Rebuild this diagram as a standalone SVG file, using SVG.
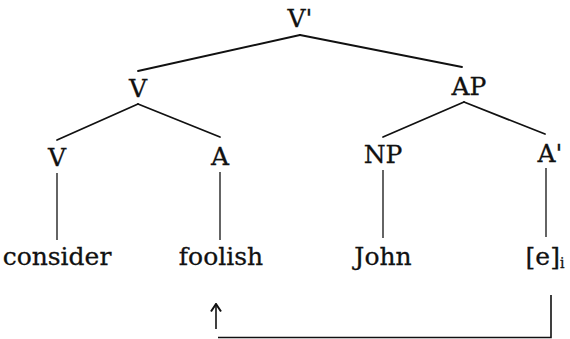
<svg xmlns="http://www.w3.org/2000/svg" width="570" height="339" viewBox="0 0 570 339">
<style>
  .lbl { font-family: "DejaVu Serif", "Liberation Serif", serif; font-size: 25px; fill: #111; stroke: #111; stroke-width: 0.3; text-anchor: middle; }
  .sub { font-size: 14px; }
  .edge { stroke: #111; stroke-width: 1.8; fill: none; stroke-linecap: round; }
  .stem { stroke: #111; stroke-width: 1.3; fill: none; }
  .mv { stroke: #111; stroke-width: 1.6; fill: none; }
</style>
<defs>
  <marker id="arr" viewBox="0 0 10 12" refX="9" refY="6" markerWidth="10" markerHeight="12" orient="auto" markerUnits="userSpaceOnUse">
    <path d="M1.5,1 L9,6 L1.5,11" fill="none" stroke="#111" stroke-width="2"/>
  </marker>
</defs>
<rect width="570" height="339" fill="#fff"/>
<g id="connectors">
  <line class="edge" x1="300" y1="35" x2="138" y2="71"/>
  <line class="edge" x1="300" y1="35" x2="462" y2="67"/>
  <line class="edge" x1="138" y1="104" x2="57" y2="140"/>
  <line class="edge" x1="138" y1="104" x2="220" y2="137"/>
  <line class="edge" x1="464" y1="102" x2="383" y2="137"/>
  <line class="edge" x1="464" y1="102" x2="545" y2="134"/>
  <line class="stem" x1="57" y1="173" x2="57" y2="240"/>
  <line class="stem" x1="220" y1="172" x2="220" y2="240"/>
  <line class="stem" x1="383" y1="170" x2="383" y2="238"/>
  <line class="stem" x1="546" y1="168" x2="546" y2="237"/>
  <polyline class="mv" points="551,295 551,337.5 218,337.5"/>
  <line class="mv" x1="216" y1="329" x2="216" y2="304" marker-end="url(#arr)"/>
</g>
<g id="node-Vbar"><text class="lbl" x="300" y="27">V'</text></g>
<g id="node-V"><text class="lbl" x="138" y="97">V</text></g>
<g id="node-AP"><text class="lbl" x="469" y="95">AP</text></g>
<g id="node-V0"><text class="lbl" x="57" y="166">V</text></g>
<g id="node-A"><text class="lbl" x="220" y="165">A</text></g>
<g id="node-NP"><text class="lbl" x="383" y="163">NP</text></g>
<g id="node-Abar"><text class="lbl" x="550" y="162">A'</text></g>
<g id="leaf-consider"><text class="lbl" x="57" y="265">consider</text></g>
<g id="leaf-foolish"><text class="lbl" x="221" y="265">foolish</text></g>
<g id="leaf-John"><text class="lbl" x="383" y="265">John</text></g>
<g id="leaf-e"><text class="lbl" x="545" y="265">[e]<tspan class="sub" dy="3">i</tspan></text></g>
</svg>
